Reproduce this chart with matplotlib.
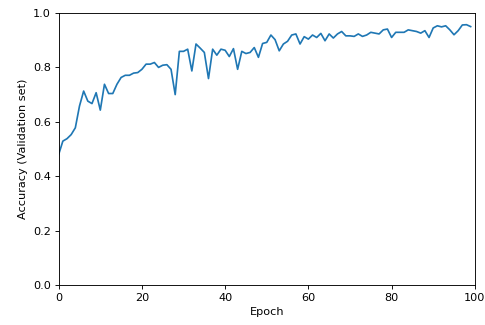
import matplotlib
matplotlib.use('Agg')
import matplotlib.pyplot as plt
import numpy as np

# validation accuracy per epoch
epochs = np.arange(100)
accuracy = [
    0.48, 0.529, 0.538, 0.553, 0.578, 0.658, 0.713, 0.676, 0.667, 0.707,
    0.643, 0.738, 0.704, 0.704, 0.738, 0.763, 0.771, 0.771, 0.779, 0.781,
    0.793, 0.812, 0.812, 0.818, 0.800, 0.808, 0.810, 0.793, 0.700, 0.859,
    0.859, 0.867, 0.787, 0.886, 0.871, 0.855, 0.759, 0.867, 0.845, 0.867,
    0.863, 0.840, 0.869, 0.793, 0.859, 0.851, 0.855, 0.873, 0.837, 0.888,
    0.892, 0.919, 0.902, 0.861, 0.886, 0.896, 0.919, 0.923, 0.886, 0.913,
    0.904, 0.919, 0.910, 0.925, 0.898, 0.923, 0.908, 0.923, 0.932, 0.916,
    0.916, 0.914, 0.923, 0.914, 0.919, 0.929, 0.926, 0.923, 0.938, 0.941,
    0.910, 0.929, 0.929, 0.929, 0.938, 0.935, 0.932, 0.926, 0.935, 0.910,
    0.945, 0.953, 0.949, 0.953, 0.938, 0.920, 0.935, 0.956, 0.957, 0.950,
]

# reference looks like a 72 dpi notebook image scaled up ~1.12x
dpi = 81
fig = plt.figure(figsize=(485 / dpi, 325 / dpi), dpi=dpi)
ax = fig.add_axes([0.121, 0.123, 0.858, 0.837])
ax.plot(epochs, accuracy, color='#1f77b4', linewidth=1.5)
ax.set_xlim(0, 100)
ax.set_ylim(0, 1.0)
ax.set_xlabel('Epoch')
ax.set_ylabel('Accuracy (Validation set)')

fig.savefig('out.png', dpi=dpi)
